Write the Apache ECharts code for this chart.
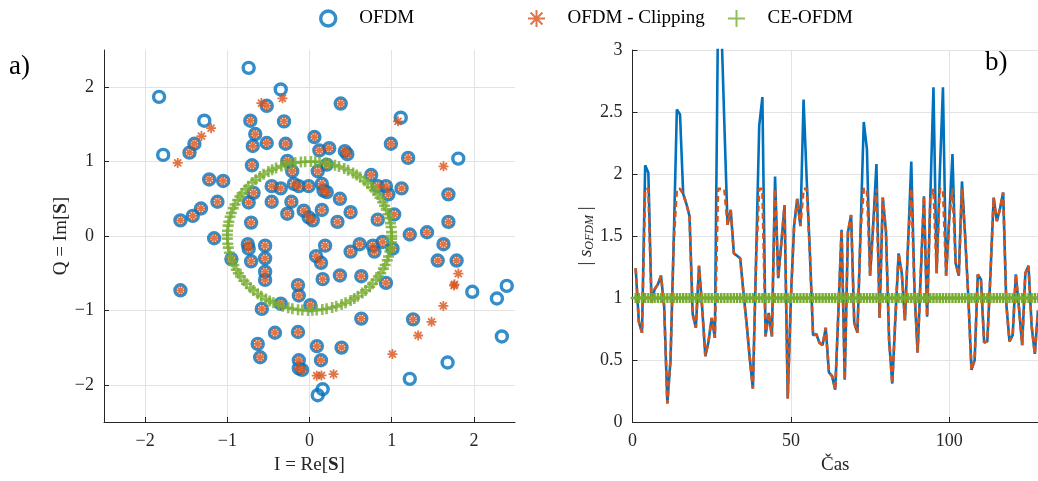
<!DOCTYPE html>
<html>
<head>
<meta charset="utf-8">
<script src="https://cdn.jsdelivr.net/npm/echarts@6/dist/echarts.min.js"></script>
<style>
  html, body { margin: 0; padding: 0; background: #ffffff; }
  #chart { width: 1038px; height: 481px; }
</style>
</head>
<body>
<div id="chart"></div>
<script>
// OFDM constellation samples (in-phase / quadrature)
const ofdmI = [
  -0.74, -0.35, -1.83, -1.28, -1.78, -1.40, -1.46, -0.72, -0.31, -0.66,
  -0.69, -0.52, -0.29, -0.70, -0.27, -0.21, -1.22, -1.05, -0.46, -0.35,
  -0.19, -0.68, -0.74, -1.12, -0.46, -0.22, -1.32, -1.42, -1.57, -0.71,
  -0.27, -0.52,  0.38,  1.11,  0.99,  1.81,  1.20,  0.06,  0.12,  0.24,
   0.43,  0.46,  0.10,  0.21,  0.75,  0.83,  0.93,  1.12,  0.96,  1.69,
  -0.13, -0.01,  0.15,  0.17,  0.21,  0.37, -0.07,  0.15, -0.01,  0.04,
   0.50,  0.34,  0.83,  1.03,  1.69,  1.22,  1.43, -1.16, -0.75, -0.74,
  -0.54, -0.95, -0.71, -0.54, -0.54, -0.54, -1.57, -0.14, -0.13, -0.35,
  -0.58, -0.42, -0.14, -0.63, -0.60, -0.13, -0.13,  0.19,  0.08,  0.14,
   0.50,  0.61,  0.77,  0.79,  0.89,  1.01,  1.63,  1.56,  1.79,  1.98,
   2.28,  2.40,  2.34,  1.68,  1.22,  0.10,  0.16,  1.26,  0.01,  0.63,
   0.93,  0.37,  0.16,  0.63,  0.09,  0.39,  0.14, -0.09,  2.60,  0.41
];
const ofdmQ = [
   2.26,  1.97,  1.87,  1.55,  1.09,  1.24,  1.12,  1.55,  1.54,  1.37,
   1.21,  1.25,  1.24,  0.95,  1.01,  0.87,  0.76,  0.74,  0.67,  0.64,
   0.70,  0.58,  0.45,  0.46,  0.46,  0.46,  0.37,  0.27,  0.21,  0.18,
   0.30,  1.75,  1.78,  1.59,  1.24,  1.04,  1.05,  1.33,  1.15,  1.18,
   1.14,  1.10,  0.87,  0.96,  0.82,  0.67,  0.67,  0.64,  0.56,  0.56,
   0.67,  0.67,  0.70,  0.61,  0.59,  0.50,  0.34,  0.35,  0.25,  0.21,
   0.32,  0.19,  0.22,  0.29,  0.19,  0.02,  0.05, -0.03, -0.11, -0.17,
  -0.13, -0.31, -0.34, -0.30, -0.48, -0.59, -0.73, -0.66, -0.80, -0.91,
  -0.98, -1.30, -1.29, -1.45, -1.63, -1.67, -1.78, -0.13, -0.27, -0.36,
  -0.21, -0.11, -0.13, -0.21, -0.08, -0.17, -0.11, -0.33, -0.33, -0.75,
  -0.84, -0.67, -1.35, -1.70, -1.92, -2.14, -2.06, -1.12, -0.93, -0.54,
  -0.63, -0.53, -0.58, -1.11, -1.48, -1.50, -1.67, -1.80, -2.02, -2.60
];

// CE-OFDM phase of each sample on the unit circle, in degrees
const cePhaseDeg = [
    0,   3,   7,  10,  14,  17,  21,  24,  27,  31,  34,  38,  41,  45,  48,
   52,  55,  58,  62,  65,  69,  72,  76,  79,  83,  86,  89,  93,  96, 100,
  103, 107, 110, 114, 117, 120, 124, 127, 131, 134, 138, 141, 145, 148, 151,
  155, 158, 162, 165, 169, 172, 176, 179, 182, 186, 189, 193, 196, 200, 203,
  207, 210, 213, 217, 220, 224, 227, 231, 234, 238, 241, 244, 248, 251, 255,
  258, 262, 265, 269, 272, 275, 279, 282, 286, 289, 293, 296, 300, 303, 306,
  310, 313, 317, 320, 324, 327, 330, 334, 337, 341, 344, 348, 351, 355, 358
];
const ceRadius = 1;

// |s_OFDM| for samples 1..128
const ofdmEnvelope = [
  1.24, 0.81, 0.72, 2.07, 2.01, 0.96, 1.07, 1.11, 1.18, 0.93,
  0.15, 0.50, 1.45, 2.52, 2.48, 1.84, 1.76, 1.66, 0.87, 0.76,
  1.26, 0.92, 0.53, 0.65, 0.84, 0.68, 3.30, 3.25, 2.40, 1.59,
  1.71, 1.36, 1.34, 1.32, 1.05, 0.80, 0.52, 0.27, 1.30, 2.39,
  2.62, 0.69, 0.88, 0.69, 1.98, 1.16, 1.45, 1.75, 0.19, 1.00,
  1.58, 1.80, 1.58, 2.60, 1.95, 1.36, 0.70, 0.71, 0.64, 0.62,
  0.76, 0.40, 0.37, 0.26, 0.90, 1.55, 0.34, 1.53, 1.67, 0.80,
  0.72, 1.55, 2.42, 2.20, 1.18, 1.60, 2.08, 0.84, 1.81, 1.54,
  0.66, 0.31, 0.85, 1.36, 1.20, 0.82, 1.45, 2.10, 1.07, 0.56,
  1.20, 1.82, 0.85, 1.80, 2.70, 1.20, 2.00, 2.70, 1.18, 1.65,
  2.16, 1.28, 1.18, 1.94, 1.50, 1.01, 0.42, 0.50, 1.19, 1.15,
  0.64, 0.65, 1.20, 1.81, 1.62, 1.72, 1.85, 0.95, 0.65, 0.70,
  1.19, 0.92, 0.62, 1.20, 1.26, 0.77, 0.55, 0.90
];
// CE-OFDM envelope is constant
const ceEnvelope = [
  1, 1, 1, 1, 1, 1, 1, 1, 1, 1, 1, 1, 1, 1, 1, 1,
  1, 1, 1, 1, 1, 1, 1, 1, 1, 1, 1, 1, 1, 1, 1, 1,
  1, 1, 1, 1, 1, 1, 1, 1, 1, 1, 1, 1, 1, 1, 1, 1,
  1, 1, 1, 1, 1, 1, 1, 1, 1, 1, 1, 1, 1, 1, 1, 1,
  1, 1, 1, 1, 1, 1, 1, 1, 1, 1, 1, 1, 1, 1, 1, 1,
  1, 1, 1, 1, 1, 1, 1, 1, 1, 1, 1, 1, 1, 1, 1, 1,
  1, 1, 1, 1, 1, 1, 1, 1, 1, 1, 1, 1, 1, 1, 1, 1,
  1, 1, 1, 1, 1, 1, 1, 1, 1, 1, 1, 1, 1, 1, 1, 1
];
// amplitude limit of the clipper
const clipLevel = 1.88;

const iqTicks = [-2, -1, 0, 1, 2];
const envTicks = [0, 0.5, 1, 1.5, 2, 2.5, 3];
const timeTicks = [0, 50, 100];

const BLUE = '#0072BD', ORANGE = '#D95319', GREEN = '#77AC30';
const AXIS = '#262626', GRID = '#e3e3e3';
const SERIF = 'Liberation Serif';
const STAR = 'path://M0,5L10,5M5,0L5,10M1.5,1.5L8.5,8.5M1.5,8.5L8.5,1.5';
const PLUS = 'path://M0,5L10,5M5,0L5,10';

// constellation points, clipped constellation, CE-OFDM circle
const ofdmPts = ofdmI.map((v, k) => [v, ofdmQ[k]]);
const clipPts = ofdmPts.map(([i, q]) => {
  const r = Math.hypot(i, q);
  const g = r > clipLevel ? clipLevel / r : 1;
  return [i * g, q * g];
});
const cePts = cePhaseDeg.map(a => [ceRadius * Math.cos(a * Math.PI / 180), ceRadius * Math.sin(a * Math.PI / 180)]);

// time-domain envelopes
const envPts = ofdmEnvelope.map((v, k) => [k + 1, v]);
const envClipPts = ofdmEnvelope.map((v, k) => [k + 1, Math.min(v, clipLevel)]);
const envCePts = ceEnvelope.map((v, k) => [k + 1, v]);

const minus = v => String(v).replace('-', '\u2212');
const tickLabel = { fontFamily: SERIF, fontSize: 18, color: AXIS };

function valueAxis(gridIndex, min, max, ticks, extra) {
  return Object.assign({
    type: 'value', gridIndex, min, max,
    axisLine: { show: true, onZero: false, lineStyle: { color: AXIS, width: 1 } },
    axisTick: { show: true, inside: true, length: 5, customValues: ticks, lineStyle: { color: AXIS } },
    axisLabel: Object.assign({ customValues: ticks, formatter: minus, margin: 10 }, tickLabel),
    splitLine: { show: true, lineStyle: { color: GRID, width: 1 } }
  }, extra || {});
}

const legendText = { fontFamily: SERIF, fontSize: 19, color: '#000' };
function legendAt(name, left, extra) {
  return Object.assign({ data: [name], left, top: 4, itemWidth: 52, itemHeight: 17, itemGap: 0,
           textStyle: legendText, selectedMode: false }, extra || {});
}

const chart = echarts.init(document.getElementById('chart'), null, { renderer: 'canvas' });
chart.setOption({
  backgroundColor: '#ffffff',
  animation: false,
  grid: [
    { left: 104, top: 50, width: 411, height: 372 },
    { left: 632.5, top: 50, width: 409.6, height: 372 }
  ],
  legend: [
    legendAt('OFDM', 314, { itemHeight: 15, itemStyle: { borderWidth: 3.4 } }),
    legendAt('OFDM - Clipping', 522),
    legendAt('CE-OFDM', 722)
  ],
  xAxis: [
    valueAxis(0, -2.5, 2.5, iqTicks, {
      name: '{n|I = Re[}{b|S}{n|]}', nameLocation: 'middle', nameGap: 34,
      nameTextStyle: { rich: {
        n: { fontFamily: SERIF, fontSize: 19, color: AXIS },
        b: { fontFamily: SERIF, fontSize: 19, color: AXIS, fontWeight: 'bold' } } }
    }),
    valueAxis(1, 0, 128, timeTicks, {
      name: '\u010Cas', nameLocation: 'middle', nameGap: 34,
      nameTextStyle: { fontFamily: SERIF, fontSize: 19, color: AXIS }
    })
  ],
  yAxis: [
    valueAxis(0, -2.5, 2.5, iqTicks, {
      name: '{n|Q = Im[}{b|S}{n|]}', nameLocation: 'middle', nameGap: 30, nameRotate: 90,
      nameTextStyle: { rich: {
        n: { fontFamily: SERIF, fontSize: 19, color: AXIS },
        b: { fontFamily: SERIF, fontSize: 19, color: AXIS, fontWeight: 'bold' } } }
    }),
    valueAxis(1, 0, 3, envTicks, {
      name: '{n|| }{i|s}{s|OFDM}{n| |}', nameLocation: 'middle', nameGap: 30, nameRotate: 90,
      nameTextStyle: { rich: {
        n: { fontFamily: SERIF, fontSize: 19, color: AXIS },
        i: { fontFamily: SERIF, fontSize: 19, color: AXIS, fontStyle: 'italic' },
        s: { fontFamily: SERIF, fontSize: 12, color: AXIS, fontStyle: 'italic', verticalAlign: 'bottom', padding: [8, 0, 0, 0] } } }
    })
  ],
  graphic: [
    { type: 'text', left: 9, top: 53, style: { text: 'a)', font: '27px "Liberation Serif"', fill: '#000' } },
    { type: 'text', left: 985, top: 49, style: { text: 'b)', font: '27px "Liberation Serif"', fill: '#000' } }
  ],
  series: [
    { name: 'OFDM', type: 'scatter', xAxisIndex: 0, yAxisIndex: 0, data: ofdmPts,
      symbol: 'circle', symbolSize: 11, clip: true,
      itemStyle: { color: 'rgba(0,0,0,0)', borderColor: BLUE, borderWidth: 3.4 } },
    { name: 'OFDM - Clipping', type: 'scatter', xAxisIndex: 0, yAxisIndex: 0, data: clipPts,
      symbol: STAR, symbolSize: 10, clip: true,
      itemStyle: { color: ORANGE, borderColor: ORANGE, borderWidth: 1.8 } },
    { name: 'CE-OFDM', type: 'scatter', xAxisIndex: 0, yAxisIndex: 0, data: cePts,
      symbol: PLUS, symbolSize: 11, clip: true,
      itemStyle: { color: GREEN, borderColor: GREEN, borderWidth: 2.6 } },

    { name: 'OFDM', type: 'line', xAxisIndex: 1, yAxisIndex: 1, data: envPts,
      showSymbol: false, clip: true, lineStyle: { color: BLUE, width: 2.6 } },
    { name: 'OFDM - Clipping', type: 'line', xAxisIndex: 1, yAxisIndex: 1, data: envClipPts,
      showSymbol: false, clip: true, lineStyle: { color: ORANGE, width: 2.6, type: [6, 4] } },
    { name: 'CE-OFDM', type: 'line', xAxisIndex: 1, yAxisIndex: 1, data: envCePts,
      symbol: PLUS, symbolSize: 10, showSymbol: true, clip: true,
      lineStyle: { color: GREEN, width: 2.6 },
      itemStyle: { color: GREEN, borderColor: GREEN, borderWidth: 2.4 } }
  ]
});
</script>
</body>
</html>
